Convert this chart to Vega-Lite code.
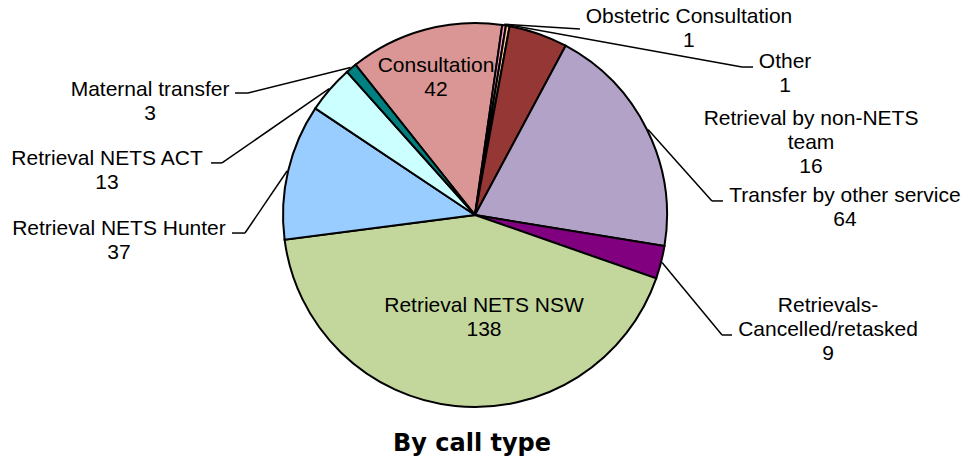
{
  "$schema": "https://vega.github.io/schema/vega-lite/v6.json",
  "autosize": {"type": "none"},
  "width": 950,
  "height": 430,
  "padding": {"left": 0, "top": 0, "right": 16, "bottom": 31},
  "background": "#ffffff",
  "title": {"text": "By call type", "orient": "bottom", "anchor": "middle", "offset": 2, "dx": -3, "font": "DejaVu Sans", "fontSize": 24, "fontWeight": "bold", "color": "#000000"},
  "data": {"values": [
    {"category": "Consultation", "label": "Consultation", "count": 42},
    {"category": "Obstetric Consultation", "label": "Obstetric Consultation", "count": 1},
    {"category": "Other", "label": "Other", "count": 1},
    {"category": "Retrieval by non-NETS team", "label": "Retrieval by non-NETS\nteam", "count": 16},
    {"category": "Transfer by other service", "label": "Transfer by other service", "count": 64},
    {"category": "Retrievals-Cancelled/retasked", "label": "Retrievals-\nCancelled/retasked", "count": 9},
    {"category": "Retrieval NETS NSW", "label": "Retrieval NETS NSW", "count": 138},
    {"category": "Retrieval NETS Hunter", "label": "Retrieval NETS Hunter", "count": 37},
    {"category": "Retrieval NETS ACT", "label": "Retrieval NETS ACT", "count": 13},
    {"category": "Maternal transfer", "label": "Maternal transfer", "count": 3}
  ]},
  "transform": [
    {"window": [{"op": "row_number", "as": "rn"}, {"op": "sum", "field": "count", "as": "cum"}]},
    {"joinaggregate": [{"op": "sum", "field": "count", "as": "total"}]},
    {"calculate": "-0.67195 + 2*PI*(datum.cum - datum.count/2)/datum.total", "as": "mid"},
    {"calculate": "193*sin(datum.mid)", "as": "ex"},
    {"calculate": "193*cos(datum.mid)", "as": "ey"},
    {"calculate": "datum.label + '\\n' + datum.count", "as": "txt"}
  ],
  "layer": [
    {
      "mark": {"type": "arc", "outerRadius": 192, "stroke": "#000000", "strokeWidth": 2},
      "encoding": {
        "theta": {"field": "count", "type": "quantitative", "stack": true, "scale": {"range": [-0.67195, 5.61124]}},
        "order": {"field": "rn", "type": "quantitative"},
        "color": {"field": "category", "type": "nominal", "legend": null,
          "scale": {
            "domain": ["Consultation", "Obstetric Consultation", "Other", "Retrieval by non-NETS team", "Transfer by other service", "Retrievals-Cancelled/retasked", "Retrieval NETS NSW", "Retrieval NETS Hunter", "Retrieval NETS ACT", "Maternal transfer"],
            "range": ["#D99694", "#FF99CC", "#FFCC99", "#953735", "#B3A2C7", "#800080", "#C3D69B", "#99CCFF", "#CCFFFF", "#008080"]
          }}
      }
    },
    {
      "transform": [{"filter": "datum.category === 'Consultation'"}],
      "mark": {"type": "text", "dx": 11.5, "dy": 43.3},
      "encoding": {
        "x": {"field": "ex", "type": "quantitative", "scale": {"domain": [-475, 475]}, "axis": null},
        "y": {"field": "ey", "type": "quantitative", "scale": {"domain": [-215, 215]}, "axis": null},
        "text": {"field": "txt"}
      }
    },
    {
      "transform": [{"filter": "datum.category === 'Retrieval NETS NSW'"}],
      "mark": {"type": "text", "dx": 29, "dy": -95},
      "encoding": {
        "x": {"field": "ex", "type": "quantitative", "scale": {"domain": [-475, 475]}, "axis": null},
        "y": {"field": "ey", "type": "quantitative", "scale": {"domain": [-215, 215]}, "axis": null},
        "text": {"field": "txt"}
      }
    },
    {
      "transform": [{"filter": "datum.category === 'Obstetric Consultation'"}],
      "mark": {"type": "text", "dx": 184.7, "dy": -1.5},
      "encoding": {
        "x": {"field": "ex", "type": "quantitative", "scale": {"domain": [-475, 475]}, "axis": null},
        "y": {"field": "ey", "type": "quantitative", "scale": {"domain": [-215, 215]}, "axis": null},
        "text": {"field": "txt"}
      }
    },
    {
      "transform": [{"filter": "datum.category === 'Obstetric Consultation'"}],
      "mark": {"type": "rule", "x2Offset": 75.7, "y2Offset": 4.8},
      "encoding": {
        "x": {"field": "ex", "type": "quantitative", "scale": {"domain": [-475, 475]}, "axis": null},
        "y": {"field": "ey", "type": "quantitative", "scale": {"domain": [-215, 215]}, "axis": null},
        "x2": {"field": "ex"}, "y2": {"field": "ey"}
      }
    },
    {
      "transform": [{"filter": "datum.category === 'Other'"}],
      "mark": {"type": "text", "dx": 277.1, "dy": 43.2},
      "encoding": {
        "x": {"field": "ex", "type": "quantitative", "scale": {"domain": [-475, 475]}, "axis": null},
        "y": {"field": "ey", "type": "quantitative", "scale": {"domain": [-215, 215]}, "axis": null},
        "text": {"field": "txt"}
      }
    },
    {
      "transform": [{"filter": "datum.category === 'Other'"}],
      "mark": {"type": "rule", "x2Offset": 234.1, "y2Offset": 42.2},
      "encoding": {
        "x": {"field": "ex", "type": "quantitative", "scale": {"domain": [-475, 475]}, "axis": null},
        "y": {"field": "ey", "type": "quantitative", "scale": {"domain": [-215, 215]}, "axis": null},
        "x2": {"field": "ex"}, "y2": {"field": "ey"}
      }
    },
    {
      "transform": [{"filter": "datum.category === 'Other'"}],
      "mark": {"type": "rule", "xOffset": 234.1, "yOffset": 42.2, "x2Offset": 245.1, "y2Offset": 42.2},
      "encoding": {
        "x": {"field": "ex", "type": "quantitative", "scale": {"domain": [-475, 475]}, "axis": null},
        "y": {"field": "ey", "type": "quantitative", "scale": {"domain": [-215, 215]}, "axis": null},
        "x2": {"field": "ex"}, "y2": {"field": "ey"}
      }
    },
    {
      "transform": [{"filter": "datum.category === 'Retrieval by non-NETS team'"}],
      "mark": {"type": "text", "dx": 272.3, "dy": 92.2},
      "encoding": {
        "x": {"field": "ex", "type": "quantitative", "scale": {"domain": [-475, 475]}, "axis": null},
        "y": {"field": "ey", "type": "quantitative", "scale": {"domain": [-215, 215]}, "axis": null},
        "text": {"field": "txt"}
      }
    },
    {
      "transform": [{"filter": "datum.category === 'Transfer by other service'"}],
      "mark": {"type": "text", "dx": 196.9, "dy": 72.4},
      "encoding": {
        "x": {"field": "ex", "type": "quantitative", "scale": {"domain": [-475, 475]}, "axis": null},
        "y": {"field": "ey", "type": "quantitative", "scale": {"domain": [-215, 215]}, "axis": null},
        "text": {"field": "txt"}
      }
    },
    {
      "transform": [{"filter": "datum.category === 'Transfer by other service'"}],
      "mark": {"type": "rule", "x2Offset": 63.9, "y2Offset": 71.4},
      "encoding": {
        "x": {"field": "ex", "type": "quantitative", "scale": {"domain": [-475, 475]}, "axis": null},
        "y": {"field": "ey", "type": "quantitative", "scale": {"domain": [-215, 215]}, "axis": null},
        "x2": {"field": "ex"}, "y2": {"field": "ey"}
      }
    },
    {
      "transform": [{"filter": "datum.category === 'Transfer by other service'"}],
      "mark": {"type": "rule", "xOffset": 63.9, "yOffset": 71.4, "x2Offset": 74.9, "y2Offset": 71.4},
      "encoding": {
        "x": {"field": "ex", "type": "quantitative", "scale": {"domain": [-475, 475]}, "axis": null},
        "y": {"field": "ey", "type": "quantitative", "scale": {"domain": [-215, 215]}, "axis": null},
        "x2": {"field": "ex"}, "y2": {"field": "ey"}
      }
    },
    {
      "transform": [{"filter": "datum.category === 'Retrievals-Cancelled/retasked'"}],
      "mark": {"type": "text", "dx": 166, "dy": 49.4},
      "encoding": {
        "x": {"field": "ex", "type": "quantitative", "scale": {"domain": [-475, 475]}, "axis": null},
        "y": {"field": "ey", "type": "quantitative", "scale": {"domain": [-215, 215]}, "axis": null},
        "text": {"field": "txt"}
      }
    },
    {
      "transform": [{"filter": "datum.category === 'Retrievals-Cancelled/retasked'"}],
      "mark": {"type": "rule", "x2Offset": 60, "y2Offset": 72.4},
      "encoding": {
        "x": {"field": "ex", "type": "quantitative", "scale": {"domain": [-475, 475]}, "axis": null},
        "y": {"field": "ey", "type": "quantitative", "scale": {"domain": [-215, 215]}, "axis": null},
        "x2": {"field": "ex"}, "y2": {"field": "ey"}
      }
    },
    {
      "transform": [{"filter": "datum.category === 'Retrievals-Cancelled/retasked'"}],
      "mark": {"type": "rule", "xOffset": 60, "yOffset": 72.4, "x2Offset": 70, "y2Offset": 72.4},
      "encoding": {
        "x": {"field": "ex", "type": "quantitative", "scale": {"domain": [-475, 475]}, "axis": null},
        "y": {"field": "ey", "type": "quantitative", "scale": {"domain": [-215, 215]}, "axis": null},
        "x2": {"field": "ex"}, "y2": {"field": "ey"}
      }
    },
    {
      "transform": [{"filter": "datum.category === 'Retrieval NETS Hunter'"}],
      "mark": {"type": "text", "dx": -168.1, "dy": 64},
      "encoding": {
        "x": {"field": "ex", "type": "quantitative", "scale": {"domain": [-475, 475]}, "axis": null},
        "y": {"field": "ey", "type": "quantitative", "scale": {"domain": [-215, 215]}, "axis": null},
        "text": {"field": "txt"}
      }
    },
    {
      "transform": [{"filter": "datum.category === 'Retrieval NETS Hunter'"}],
      "mark": {"type": "rule", "x2Offset": -42.1, "y2Offset": 62},
      "encoding": {
        "x": {"field": "ex", "type": "quantitative", "scale": {"domain": [-475, 475]}, "axis": null},
        "y": {"field": "ey", "type": "quantitative", "scale": {"domain": [-215, 215]}, "axis": null},
        "x2": {"field": "ex"}, "y2": {"field": "ey"}
      }
    },
    {
      "transform": [{"filter": "datum.category === 'Retrieval NETS Hunter'"}],
      "mark": {"type": "rule", "xOffset": -42.1, "yOffset": 62, "x2Offset": -55.1, "y2Offset": 62},
      "encoding": {
        "x": {"field": "ex", "type": "quantitative", "scale": {"domain": [-475, 475]}, "axis": null},
        "y": {"field": "ey", "type": "quantitative", "scale": {"domain": [-215, 215]}, "axis": null},
        "x2": {"field": "ex"}, "y2": {"field": "ey"}
      }
    },
    {
      "transform": [{"filter": "datum.category === 'Retrieval NETS ACT'"}],
      "mark": {"type": "text", "dx": -222.2, "dy": 76.4},
      "encoding": {
        "x": {"field": "ex", "type": "quantitative", "scale": {"domain": [-475, 475]}, "axis": null},
        "y": {"field": "ey", "type": "quantitative", "scale": {"domain": [-215, 215]}, "axis": null},
        "text": {"field": "txt"}
      }
    },
    {
      "transform": [{"filter": "datum.category === 'Retrieval NETS ACT'"}],
      "mark": {"type": "rule", "x2Offset": -107.2, "y2Offset": 74.4},
      "encoding": {
        "x": {"field": "ex", "type": "quantitative", "scale": {"domain": [-475, 475]}, "axis": null},
        "y": {"field": "ey", "type": "quantitative", "scale": {"domain": [-215, 215]}, "axis": null},
        "x2": {"field": "ex"}, "y2": {"field": "ey"}
      }
    },
    {
      "transform": [{"filter": "datum.category === 'Retrieval NETS ACT'"}],
      "mark": {"type": "rule", "xOffset": -107.2, "yOffset": 74.4, "x2Offset": -118.2, "y2Offset": 74.4},
      "encoding": {
        "x": {"field": "ex", "type": "quantitative", "scale": {"domain": [-475, 475]}, "axis": null},
        "y": {"field": "ey", "type": "quantitative", "scale": {"domain": [-215, 215]}, "axis": null},
        "x2": {"field": "ex"}, "y2": {"field": "ey"}
      }
    },
    {
      "transform": [{"filter": "datum.category === 'Maternal transfer'"}],
      "mark": {"type": "text", "dx": -200.5, "dy": 28.5},
      "encoding": {
        "x": {"field": "ex", "type": "quantitative", "scale": {"domain": [-475, 475]}, "axis": null},
        "y": {"field": "ey", "type": "quantitative", "scale": {"domain": [-215, 215]}, "axis": null},
        "text": {"field": "txt"}
      }
    },
    {
      "transform": [{"filter": "datum.category === 'Maternal transfer'"}],
      "mark": {"type": "rule", "x2Offset": -102.5, "y2Offset": 25.5},
      "encoding": {
        "x": {"field": "ex", "type": "quantitative", "scale": {"domain": [-475, 475]}, "axis": null},
        "y": {"field": "ey", "type": "quantitative", "scale": {"domain": [-215, 215]}, "axis": null},
        "x2": {"field": "ex"}, "y2": {"field": "ey"}
      }
    },
    {
      "transform": [{"filter": "datum.category === 'Maternal transfer'"}],
      "mark": {"type": "rule", "xOffset": -102.5, "yOffset": 25.5, "x2Offset": -115.5, "y2Offset": 25.5},
      "encoding": {
        "x": {"field": "ex", "type": "quantitative", "scale": {"domain": [-475, 475]}, "axis": null},
        "y": {"field": "ey", "type": "quantitative", "scale": {"domain": [-215, 215]}, "axis": null},
        "x2": {"field": "ex"}, "y2": {"field": "ey"}
      }
    }
  ],
  "config": {
    "view": {"stroke": null},
    "text": {"font": "Liberation Sans", "fontSize": 21, "lineHeight": 24, "lineBreak": "\n", "align": "center", "baseline": "alphabetic", "color": "#000000"},
    "rule": {"color": "#000000", "strokeWidth": 1.5}
  }
}
